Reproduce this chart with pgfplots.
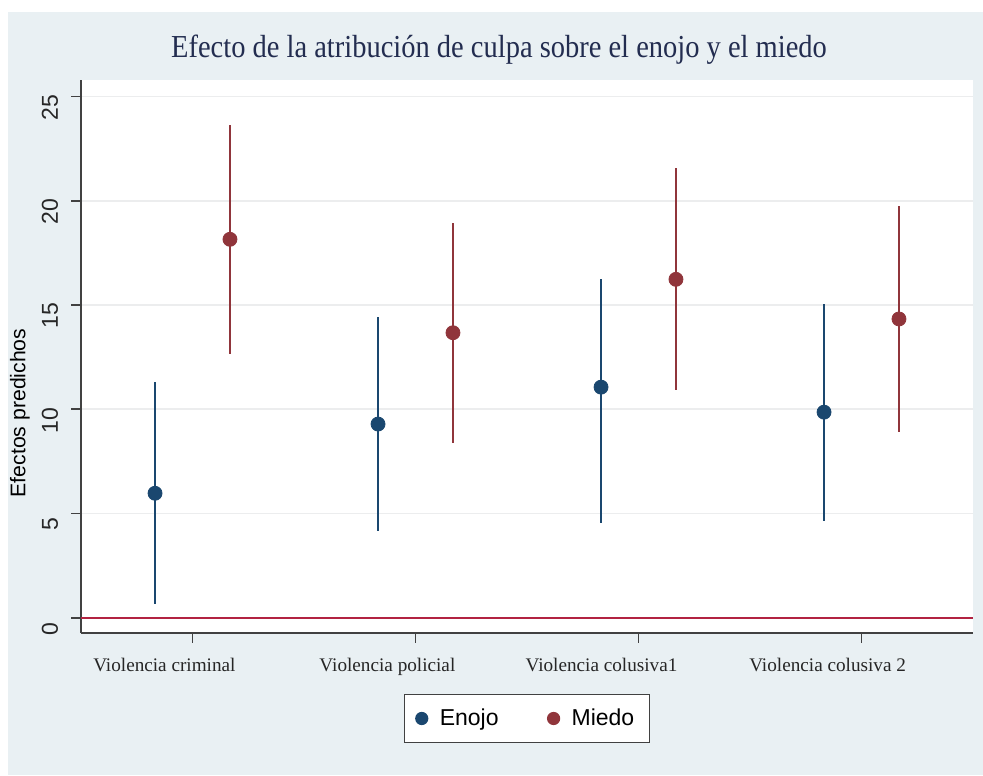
\documentclass[border=0pt]{standalone}
\usepackage{fontspec}
\setmainfont{Liberation Serif}
\setsansfont{Liberation Sans}
\usepackage{pgfplots}
\pgfplotsset{compat=1.18}

\definecolor{panelbg}{RGB}{233,240,243}
\definecolor{enojo}{RGB}{26,71,111}
\definecolor{miedo}{RGB}{144,53,59}
\definecolor{zeroline}{RGB}{178,35,65}
\definecolor{titlecol}{RGB}{35,45,80}
\definecolor{axiscol}{RGB}{65,65,65}
\definecolor{gridcol}{RGB}{236,237,238}

\begin{document}
\begin{tikzpicture}
% page and outer panel
\fill[white] (0,0) rectangle (491.5pt,387.5pt);
\fill[panelbg] (4pt,0) rectangle (491.5pt,381.5pt);
% title
\node[anchor=base, text=titlecol, xscale=0.89,
      font=\fontsize{16}{19}\selectfont] at (249.5pt,358.5pt)
  {Efecto de la atribución de culpa sobre el enojo y el miedo};

\begin{axis}[
  at={(40.5pt,71pt)}, anchor=south west,
  scale only axis, width=446pt, height=276.5pt,
  xmin=0.5, xmax=4.5, ymin=-0.73, ymax=25.79,
  axis x line*=bottom, axis y line*=left,
  axis line style={axiscol, line width=0.8pt, -},
  axis background/.style={fill=white},
  tick align=outside, major tick length=4.75pt,
  tick style={axiscol, line width=0.8pt},
  xtick={1,2,3,4}, xticklabels={,,,},
  extra x ticks={0.874,1.874,2.834,3.848},
  extra x tick labels={Violencia criminal,Violencia policial,Violencia colusiva1,Violencia colusiva 2},
  extra x tick style={major tick length=0pt,
    xticklabel style={yshift=-9pt}},
  xticklabel style={font=\fontsize{9.6}{11}\selectfont, text=black!85},
  ytick={0,5,10,15,20,25},
  ymajorgrids, grid style={gridcol, line width=0.9pt},
  /pgf/number format/assume math mode=true,
  % labels are rotated, so xshift moves them down and yshift moves them left
  yticklabel style={rotate=90, anchor=base, xshift=-5.5pt, yshift=6.75pt,
    font=\sffamily\fontsize{11.5}{13}\selectfont, text=black!85},
  ylabel={Efectos predichos},
  ylabel style={at={(axis description cs:0,0.398)}, anchor=center,
    yshift=30.5pt, font=\sffamily\fontsize{10.6}{13}\selectfont},
  legend columns=2,
  legend style={at={(0.5,-0.1546)}, anchor=center, draw=axiscol,
    fill=white, line width=0.6pt,
    font=\sffamily\fontsize{11.5}{13}\selectfont,
    inner xsep=5.5pt, inner ysep=5pt,
    /tikz/every odd column/.append style={column sep=4pt},
    /tikz/every even column/.append style={column sep=22.5pt}},
  legend image post style={mark size=3pt},
]
% reference line at zero
\addplot[zeroline, line width=1pt, forget plot] coordinates {(0.5,0) (4.5,0)};

% anger: predicted effect with 95% interval
\addplot[only marks, mark=*, mark size=3.5pt, color=enojo,
  error bars/.cd, y dir=both, y explicit, error mark=none,
  error bar style={line width=1pt, enojo}]
  coordinates {
  (0.832,5.97)  +- (0,5.33)
  (1.832,9.29)  +- (0,5.12)
  (2.832,11.06) += (0,5.18) -= (0,6.50)
  (3.832,9.86)  +- (0,5.20)
  };
\addlegendentry{Enojo}

% fear: predicted effect with 95% interval
\addplot[only marks, mark=*, mark size=3.5pt, color=miedo,
  error bars/.cd, y dir=both, y explicit, error mark=none,
  error bar style={line width=1pt, miedo}]
  coordinates {
  (1.168,18.15) +- (0,5.50)
  (2.168,13.67) +- (0,5.28)
  (3.168,16.23) +- (0,5.32)
  (4.168,14.33) +- (0,5.40)
  };
\addlegendentry{Miedo}
\end{axis}
\pgfresetboundingbox
\useasboundingbox (0,0) rectangle (491.5pt,387.5pt);
\end{tikzpicture}
\end{document}
